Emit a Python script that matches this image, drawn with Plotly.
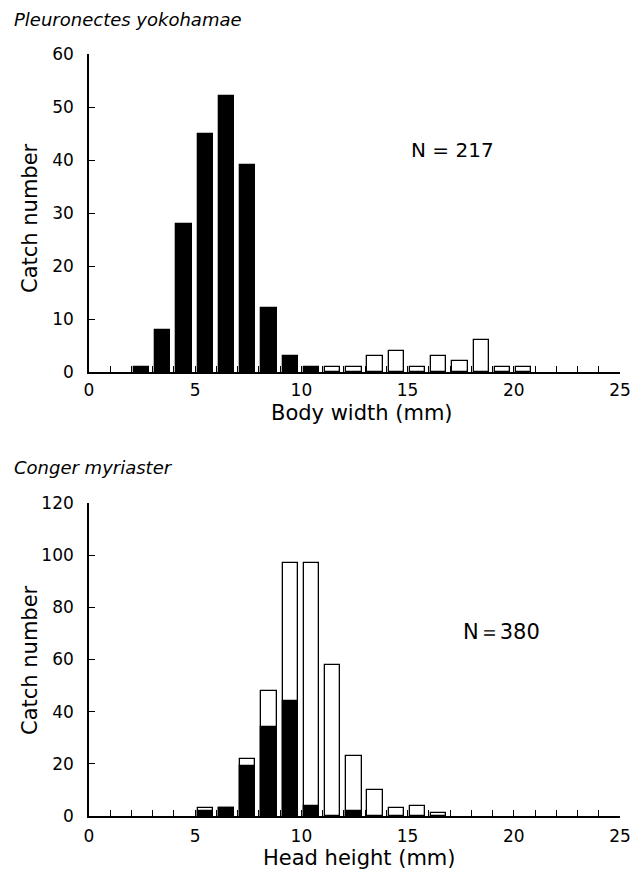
import plotly.graph_objects as go

# ---- data ----
bins = list(range(0, 25))  # lower edge of each 1-mm class
# Pleuronectes yokohamae (body width)
pl_black = [0, 0, 1, 8, 28, 45, 52, 39, 12, 3, 1, 0, 0, 0, 0, 0, 0, 0, 0, 0, 0, 0, 0, 0, 0]
pl_open = [0, 0, 0, 0, 0, 0, 0, 0, 0, 0, 0, 1, 1, 3, 4, 1, 3, 2, 6, 1, 1, 0, 0, 0, 0]
# Conger myriaster (head height): black part and total bar height
cm_black = [0, 0, 0, 0, 0, 2, 3, 19, 34, 44, 4, 0, 2, 0, 0, 0, 0, 0, 0, 0, 0, 0, 0, 0, 0]
cm_total = [0, 0, 0, 0, 0, 3, 3, 22, 48, 97, 97, 58, 23, 10, 3, 4, 1, 0, 0, 0, 0, 0, 0, 0, 0]

top_title = "Pleuronectes yokohamae"
bot_title = "Conger myriaster"
top_xlabel = "Body width (mm)"
bot_xlabel = "Head height (mm)"
ylabel = "Catch number"
top_n = "N = 217"
bot_n = "N＝380"

FONT = "DejaVu Sans"
W, H = 642, 872
centers = [b + 0.47 for b in bins]
BW = 0.72

fig = go.Figure()

def keep(vals):
    xs = [c for c, v in zip(centers, vals) if v > 0]
    ys = [v for v in vals if v > 0]
    return xs, ys

def bar(vals, fill, xa, ya):
    x, y = keep(vals)
    fig.add_trace(go.Bar(x=x, y=y, width=BW,
                         marker=dict(color=fill, line=dict(color="black", width=1.3)),
                         xaxis=xa, yaxis=ya, showlegend=False, hoverinfo="x+y"))

bar(pl_open, "white", "x", "y")
bar(pl_black, "black", "x", "y")
bar(cm_total, "white", "x2", "y2")
bar(cm_black, "black", "x2", "y2")

x0, x1 = 89 / W, 620 / W
top_dom = [1 - 372 / H, 1 - 54 / H]
bot_dom = [1 - 816 / H, 1 - 503 / H]

def xaxis(anchor, standoff):
    return dict(domain=[x0, x1], range=[0, 25], anchor=anchor, showline=True, linecolor="black", linewidth=1.6,
                ticks="inside", ticklen=6, tickwidth=1.3, tickcolor="black", dtick=5, tick0=0,
                minor=dict(dtick=1, ticks="inside", ticklen=6, tickwidth=1.3, tickcolor="black", showgrid=False),
                showgrid=False, zeroline=False, automargin=False, ticklabelstandoff=standoff,
                tickfont=dict(family=FONT, size=17, color="black"), fixedrange=True)

def yaxis(anchor, dom, rng, dt):
    return dict(domain=dom, range=rng, anchor=anchor, showline=True, linecolor="black", linewidth=1.6,
                ticks="inside", ticklen=6, tickwidth=1.3, tickcolor="black", dtick=dt, tick0=0,
                showgrid=False, zeroline=False, automargin=False,
                tickfont=dict(family=FONT, size=17, color="black"), ticklabelstandoff=10, fixedrange=True)

fig.update_layout(
    template="none",
    width=W, height=H, margin=dict(l=0, r=0, t=0, b=0, pad=0), autosize=False,
    paper_bgcolor="white", plot_bgcolor="white", barmode="overlay", bargap=0, showlegend=False,
    xaxis=xaxis("y", 2), yaxis=yaxis("x", top_dom, [0, 60], 10),
    xaxis2=xaxis("y2", 4), yaxis2=yaxis("x2", bot_dom, [0, 120], 20),
    font=dict(family=FONT, color="black"),
)

def ann(text, xp, yp, size=21, italic=False, xanchor="center", angle=0):
    fig.add_annotation(text=("<i>%s</i>" % text) if italic else text, x=xp / W, y=1 - yp / H,
                       xref="paper", yref="paper", showarrow=False, xanchor=xanchor, yanchor="middle",
                       textangle=angle, font=dict(family=FONT, size=size, color="black"))

ann(top_title, 12, 20, size=18, italic=True, xanchor="left")
ann(bot_title, 12, 467, size=18, italic=True, xanchor="left")
ann(ylabel, 30, 218, angle=-90)
ann(ylabel, 30, 660, angle=-90)
ann(top_xlabel, 362, 413)
ann(bot_xlabel, 360, 858)
ann(top_n, 452, 150, size=20)
ann(bot_n, 501, 632, size=21)

fig.write_html("out.html")
